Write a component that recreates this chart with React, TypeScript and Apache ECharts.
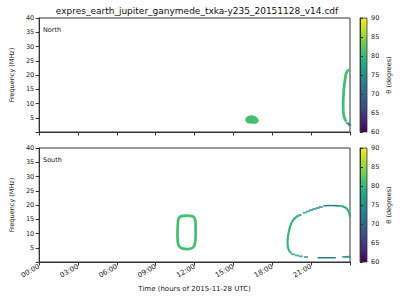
import React, { useEffect, useRef } from 'react';
import * as echarts from 'echarts';

const TITLE = 'expres_earth_jupiter_ganymede_txka-y235_20151128_v14.cdf';
const X_MIN = 0;
const X_MAX = 24;
const X_STEP = 3;
const Y_MIN = 0;
const Y_MAX = 40;
const Y_STEP = 5;
const THETA_MIN = 60;
const THETA_MAX = 90;
const THETA_STEP = 5;
const PANEL_LABELS = ['North', 'South'];

// [hour, MHz]
const northBlob = [[16.0, 4.4], [16.15, 5.1], [16.4, 5.35], [16.65, 5.0], [16.85, 4.1], [16.7, 3.45], [16.35, 3.4], [16.1, 3.7], [16.0, 4.4], [16.4, 4.3], [16.7, 4.1]];
const northBlobTheta = 81;
const northArc = [[23.98, 21.7], [23.82, 21.5], [23.7, 20.5], [23.62, 18.5], [23.55, 16], [23.5, 13], [23.47, 10], [23.48, 7.5], [23.53, 5.6], [23.62, 4.4], [23.72, 3.7]];
const northArcTheta = 81;
// [hour, MHz, theta]
const northTail = [[23.8, 3.2, 76], [23.9, 2.8, 75], [23.98, 2.5, 74]];

const southRing = [[11.4, 16.25], [11.8, 16.1], [12.0, 15.4], [12.08, 13], [12.08, 9], [12.02, 6.3], [11.85, 5.0], [11.45, 4.55], [11.0, 4.85], [10.75, 6.0], [10.68, 9], [10.7, 13], [10.78, 15.4], [11.0, 16.1], [11.4, 16.25]];
const southRingTheta = 81;
const southLeft = [[20.25, 16.6], [20.0, 16.2], [19.75, 15.4], [19.55, 14.3], [19.38, 12.5], [19.25, 10], [19.18, 7.5], [19.2, 5.5], [19.3, 4.0], [19.45, 3.1]];
const southLeftTheta = 80;
const southTop = [[21.95, 19.75], [22.6, 19.8], [23.2, 19.7]];
const southTopTheta = 73;
const southRight = [[23.2, 19.7], [23.55, 19.3], [23.78, 18.6], [23.92, 17.3], [24.0, 15.8]];
const southRightTheta = 79;
const southFloor = [[21.5, 1.5], [22.9, 1.5]];
const southFloorTheta = 72;
const southDots = [[20.5, 17.3, 77], [20.75, 17.75, 76], [21.0, 18.2, 75], [21.25, 18.6, 74], [21.5, 18.95, 74], [21.75, 19.3, 73], [19.6, 2.7, 77], [19.9, 2.3, 76], [20.2, 2.0, 75], [20.6, 1.75, 74], [23.55, 1.8, 74], [23.75, 1.8, 75], [23.9, 1.85, 76]];

const VIRIDIS = ['#440154', '#482475', '#414487', '#355f8d', '#2a788e', '#21918c', '#22a884', '#44bf70', '#7ad151', '#bddf26', '#fde725'];

function hexToRgb(h: string) {
  return [parseInt(h.slice(1, 3), 16), parseInt(h.slice(3, 5), 16), parseInt(h.slice(5, 7), 16)];
}
function viridis(theta: number) {
  const t = Math.max(0, Math.min(1, (theta - THETA_MIN) / (THETA_MAX - THETA_MIN)));
  const p = t * (VIRIDIS.length - 1);
  const i = Math.min(VIRIDIS.length - 2, Math.floor(p));
  const f = p - i;
  const a = hexToRgb(VIRIDIS[i]);
  const b = hexToRgb(VIRIDIS[i + 1]);
  const c = a.map((v, k) => Math.round(v + (b[k] - v) * f));
  return `rgb(${c[0]},${c[1]},${c[2]})`;
}

const FONT = 'DejaVu Sans';
const AXIS_COLOR = '#333';

export default function App() {
  const ref = useRef<HTMLDivElement>(null);
  useEffect(() => {
    if (!ref.current) return;
    document.body.style.margin = '0';
    const chart = echarts.init(ref.current, null, { renderer: 'svg' });

    const plotGrids = [
      { left: 31, top: 18, width: 319, height: 114 },
      { left: 31, top: 148, width: 319, height: 114 },
    ];
    const cbGrids = [
      { left: 360, top: 18, width: 7, height: 114 },
      { left: 360, top: 148, width: 7, height: 114 },
    ];

    const lineSeries = (data: number[][], theta: number, panel: number, width = 2.6) => ({
      type: 'line',
      xAxisIndex: panel,
      yAxisIndex: panel,
      data,
      showSymbol: false,
      smooth: 0.35,
      lineStyle: { width, color: viridis(theta) },
      itemStyle: { color: viridis(theta) },
      silent: true,
      z: 3,
    });

    const xAxisBase = (gridIndex: number, showLabels: boolean) => ({
      type: 'value',
      gridIndex,
      min: X_MIN,
      max: X_MAX,
      interval: X_STEP,
      axisLine: { show: true, onZero: false, lineStyle: { color: AXIS_COLOR, width: 1 } },
      axisTick: { show: true, length: 3.5, lineStyle: { color: AXIS_COLOR } },
      splitLine: { show: false },
      axisLabel: {
        show: showLabels,
        fontSize: 7,
        color: '#222',
        fontFamily: FONT,
        rotate: 30,
        margin: 4,
        formatter: (v: number) => (v >= X_MAX ? '' : `${String(v).padStart(2, '0')}:00`),
      },
      name: showLabels ? 'Time (hours of 2015-11-28 UTC)' : '',
      nameLocation: 'middle',
      nameGap: 23,
      nameTextStyle: { fontSize: 7, color: '#222', fontFamily: FONT },
    });

    const yAxisBase = (gridIndex: number) => ({
      type: 'value',
      gridIndex,
      min: Y_MIN,
      max: Y_MAX,
      interval: Y_STEP,
      axisLine: { show: true, lineStyle: { color: AXIS_COLOR, width: 1 } },
      axisTick: { show: true, length: 3.5, lineStyle: { color: AXIS_COLOR } },
      splitLine: { show: false },
      axisLabel: {
        fontSize: 6.5,
        color: '#222',
        fontFamily: FONT,
        margin: 5,
        formatter: (v: number) => (v === 0 ? '' : String(v)),
      },
      name: 'Frequency (MHz)',
      nameLocation: 'middle',
      nameGap: 16,
      nameRotate: 90,
      nameTextStyle: { fontSize: 6.5, color: '#222', fontFamily: FONT },
    });

    const cbYAxis = (gridIndex: number) => ({
      type: 'value',
      gridIndex,
      position: 'right',
      min: THETA_MIN,
      max: THETA_MAX,
      interval: THETA_STEP,
      axisLine: { show: true, lineStyle: { color: AXIS_COLOR, width: 1 } },
      axisTick: { show: true, length: 3, lineStyle: { color: AXIS_COLOR } },
      splitLine: { show: false },
      axisLabel: { fontSize: 6.5, color: '#222', fontFamily: FONT, margin: 4 },
      name: 'θ (degrees)',
      nameLocation: 'middle',
      nameGap: 18,
      nameRotate: 90,
      nameTextStyle: { fontSize: 6.5, color: '#222', fontFamily: FONT },
    });

    const cbXAxis = (gridIndex: number) => ({
      type: 'value',
      gridIndex,
      min: 0,
      max: 1,
      show: false,
    });

    const series: any[] = [
      lineSeries(northBlob, northBlobTheta, 0, 3),
      lineSeries(northArc, northArcTheta, 0, 2.8),
      {
        type: 'scatter',
        xAxisIndex: 0,
        yAxisIndex: 0,
        data: northTail,
        symbol: 'rect',
        symbolSize: [3, 2],
        silent: true,
        z: 3,
      },
      lineSeries(southRing, southRingTheta, 1, 2.7),
      lineSeries(southLeft, southLeftTheta, 1, 2.2),
      lineSeries(southTop, southTopTheta, 1, 1.6),
      lineSeries(southRight, southRightTheta, 1, 2),
      lineSeries(southFloor, southFloorTheta, 1, 1.4),
      {
        type: 'scatter',
        xAxisIndex: 1,
        yAxisIndex: 1,
        data: southDots,
        symbol: 'rect',
        symbolSize: [4, 1.8],
        silent: true,
        z: 3,
      },
    ];

    const vm = (seriesIndex: number) => ({
      type: 'continuous',
      show: false,
      min: THETA_MIN,
      max: THETA_MAX,
      dimension: 2,
      seriesIndex,
      inRange: { color: VIRIDIS },
    });

    const gradientStops = VIRIDIS.map((c, i) => ({ offset: i / (VIRIDIS.length - 1), color: c }));

    chart.setOption({
      animation: false,
      textStyle: { fontFamily: FONT },
      grid: [
        ...plotGrids.map((g) => ({ ...g, show: true, borderColor: AXIS_COLOR, borderWidth: 1, backgroundColor: 'transparent', containLabel: false })),
        ...cbGrids.map((g) => ({ ...g, show: true, borderColor: AXIS_COLOR, borderWidth: 0.8, backgroundColor: 'transparent', containLabel: false })),
      ],
      xAxis: [xAxisBase(0, false), xAxisBase(1, true), cbXAxis(2), cbXAxis(3)],
      yAxis: [yAxisBase(0), yAxisBase(1), cbYAxis(2), cbYAxis(3)],
      visualMap: [vm(2), vm(8)],
      series,
      graphic: [
        {
          type: 'text',
          x: 197,
          y: 11,
          style: { text: TITLE, fontSize: 9, fill: '#111', fontFamily: FONT, textAlign: 'center', textVerticalAlign: 'middle' },
        },
        ...PANEL_LABELS.map((label, i) => ({
          type: 'text',
          x: 43,
          y: plotGrids[i].top + 12,
          style: { text: label, fontSize: 6.5, fill: '#222', fontFamily: FONT, textAlign: 'left', textVerticalAlign: 'middle' },
        })),
        ...cbGrids.map((g) => ({
          type: 'rect',
          shape: { x: g.left, y: g.top, width: g.width, height: g.height },
          style: { fill: new echarts.graphic.LinearGradient(0, 1, 0, 0, gradientStops) },
          z: -1,
        })),
      ],
    });

    return () => chart.dispose();
  }, []);

  return <div ref={ref} style={{ width: 400, height: 300 }} />;
}
